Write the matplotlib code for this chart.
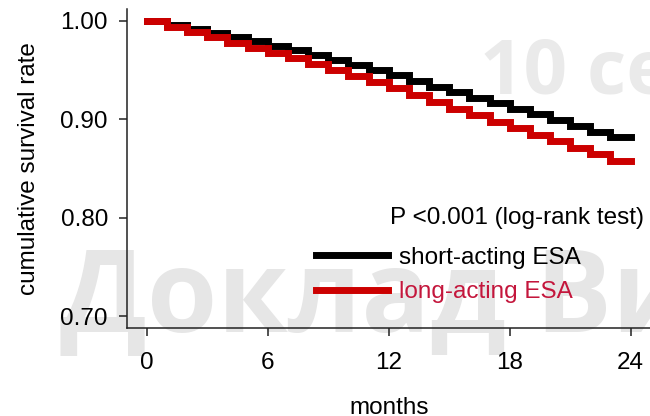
import numpy as np
import matplotlib.pyplot as plt

plt.rcParams['font.family'] = ['Liberation Sans', 'DejaVu Sans']

# monthly Kaplan-Meier levels (interval k..k+1)
months = np.arange(0, 25)
short_acting = [1.000, 0.996, 0.992, 0.988, 0.984, 0.980, 0.975, 0.970,
                0.965, 0.960, 0.955, 0.950, 0.945, 0.939, 0.933, 0.928,
                0.922, 0.917, 0.911, 0.905, 0.899, 0.893, 0.887, 0.882]
long_acting = [1.000, 0.994, 0.989, 0.984, 0.978, 0.973, 0.967, 0.962,
               0.956, 0.950, 0.944, 0.938, 0.932, 0.925, 0.918, 0.911,
               0.904, 0.897, 0.891, 0.884, 0.878, 0.871, 0.865, 0.858]
xticks = [0, 6, 12, 18, 24]
yticks = [0.70, 0.80, 0.90, 1.00]
ytick_labels = ['0.70', '0.80', '0.90', '1.00']
p_text = 'P <0.001 (log-rank test)'

red = '#cc0000'
red_text = '#c4163c'
fs = 17.5

fig = plt.figure(figsize=(6.5, 4.16), dpi=100)

# faint slide watermark behind the chart
fig.text(0.092, 0.202, 'Доклад Ви', fontsize=82, fontweight='bold',
         family=['Open Sans', 'DejaVu Sans'], color='#e6e6e6', zorder=0)
fig.text(0.738, 0.776, '10 се', fontsize=55, fontweight='bold',
         family=['Open Sans', 'DejaVu Sans'], color='#eaeaea', zorder=0)

ax = fig.add_axes([0.196, 0.2115, 0.804, 0.7665])
ax.set_zorder(2)
ax.patch.set_alpha(0)

ax.step(months, short_acting + [short_acting[-1]], where='post',
        color='black', lw=5, solid_joinstyle='miter', label='short-acting ESA')
ax.step(months, long_acting + [long_acting[-1]], where='post',
        color=red, lw=5, solid_joinstyle='miter', label='long-acting ESA')

ax.set_xlim(-0.96, 24.96)
ax.set_ylim(0.688, 1.012)
ax.set_xticks(xticks)
ax.set_yticks(yticks)
ax.set_yticklabels(ytick_labels)

for s in ['top', 'right']:
    ax.spines[s].set_visible(False)
for s in ['left', 'bottom']:
    ax.spines[s].set_linewidth(1.1)
    ax.spines[s].set_color('#222222')
ax.tick_params(axis='both', direction='out', length=6, width=1.1,
               color='#222222', labelsize=fs)
ax.tick_params(axis='y', pad=8)
ax.tick_params(axis='x', pad=11)

ax.set_xlabel('months', fontsize=fs, labelpad=17)
ax.set_ylabel('cumulative survival rate', fontsize=fs, labelpad=15)

ax.text(0.503, 0.346, p_text, transform=ax.transAxes, fontsize=fs,
        va='center', ha='left')

leg = ax.legend(loc='upper left', bbox_to_anchor=(0.36, 0.255),
                frameon=False, fontsize=fs, handlelength=3.0,
                handletextpad=0.42, labelspacing=0.52, borderpad=0,
                borderaxespad=0)
leg.get_texts()[1].set_color(red_text)

plt.savefig('out.png', dpi=100)
